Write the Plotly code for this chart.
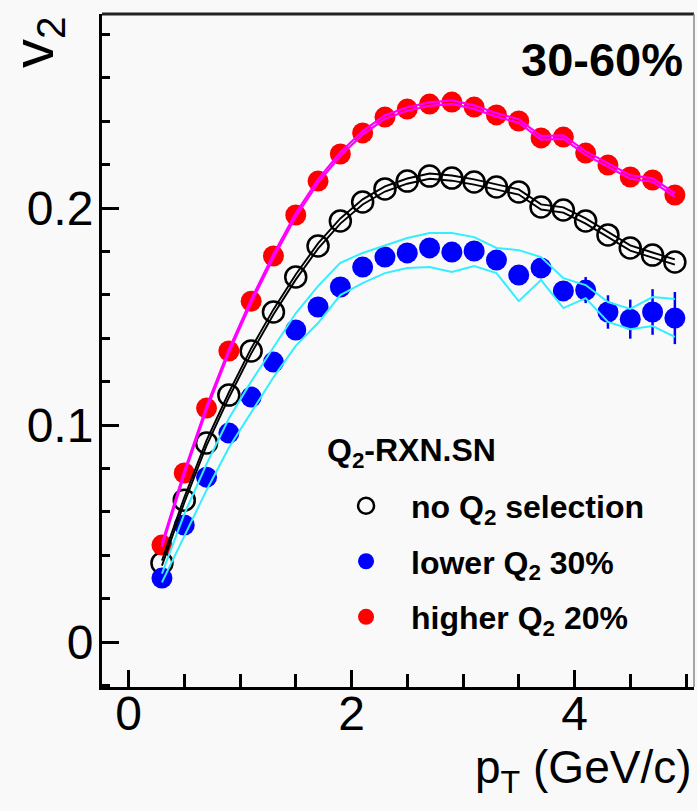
import plotly.graph_objects as go

# ---------------- data ----------------
pt = [0.3, 0.5, 0.7, 0.9, 1.1, 1.3, 1.5, 1.7, 1.9, 2.1, 2.3, 2.5,
      2.7, 2.9, 3.1, 3.3, 3.5, 3.7, 3.9, 4.1, 4.3, 4.5, 4.7, 4.9]

v2_all = [0.0364, 0.0654, 0.0917, 0.1138, 0.1341, 0.1521, 0.1682, 0.1825,
          0.1940, 0.2028, 0.2088, 0.2124, 0.2147, 0.2138, 0.2120, 0.2097,
          0.2074, 0.2005, 0.1991, 0.1940, 0.1876, 0.1816, 0.1783, 0.1751]
all_sys = [0.0012] * 24

v2_low = [0.0295, 0.0539, 0.0760, 0.0963, 0.1129, 0.1290, 0.1438, 0.1544,
          0.1636, 0.1728, 0.1774, 0.1793, 0.1816, 0.1797, 0.1802, 0.1760,
          0.1691, 0.1724, 0.1618, 0.1622, 0.1521, 0.1488, 0.1521, 0.1493]
low_err = [0.002, 0.002, 0.002, 0.002, 0.002, 0.002, 0.002, 0.002,
           0.002, 0.002, 0.002, 0.002, 0.002, 0.002, 0.002, 0.003,
           0.003, 0.003, 0.004, 0.006, 0.0077, 0.009, 0.0105, 0.012]
low_band_up = [0.0315, 0.0590, 0.0820, 0.1030, 0.1200, 0.1360, 0.1515, 0.1640,
               0.1747, 0.1793, 0.1829, 0.1862, 0.1885, 0.1885, 0.1866, 0.1816,
               0.1806, 0.1774, 0.1677, 0.1645, 0.1567, 0.1535, 0.1590, 0.1581]
low_band_dn = [0.0275, 0.0490, 0.0700, 0.0895, 0.1060, 0.1220, 0.1365, 0.1470,
               0.1599, 0.1654, 0.1700, 0.1724, 0.1728, 0.1705, 0.1733, 0.1700,
               0.1571, 0.1668, 0.1539, 0.1585, 0.1475, 0.1442, 0.1456, 0.1406]

v2_high = [0.0447, 0.0779, 0.1078, 0.1341, 0.1571, 0.1779, 0.1968, 0.2124,
           0.2249, 0.2346, 0.2419, 0.2456, 0.2479, 0.2488, 0.2465, 0.2429,
           0.2401, 0.2323, 0.2327, 0.2253, 0.2198, 0.2143, 0.2129, 0.2060]
high_sys = [0.0008] * 24

x_ticks = [0, 2, 4]
y_ticks = [0, 0.1, 0.2]

FONT = "Liberation Sans, Arial, Helvetica, sans-serif"

fig = go.Figure()

# markers first (lines are drawn over them in the reference)
fig.add_trace(go.Scatter(
    x=pt, y=v2_all, mode="markers", name="<b>no Q<sub>2</sub> selection</b>",
    marker=dict(symbol="circle-open", size=21, color="black",
                line=dict(width=2.5, color="black")),
    legendrank=1, legendgroup="a"))
fig.add_trace(go.Scatter(
    x=pt, y=v2_low, mode="markers", name="<b>lower Q<sub>2</sub> 30%</b>",
    marker=dict(symbol="circle", size=21, color="#0000ff"),
    error_y=dict(type="data", array=low_err, color="#0000ff",
                 thickness=2.5, width=0),
    legendrank=2, legendgroup="b"))
fig.add_trace(go.Scatter(
    x=pt, y=v2_high, mode="markers", name="<b>higher Q<sub>2</sub> 20%</b>",
    marker=dict(symbol="circle", size=21, color="#ff0000"),
    legendrank=3, legendgroup="c"))

# systematic band lines
def band(vals, sys, sign):
    return [v + sign * s for v, s in zip(vals, sys)]

for sgn in (1, -1):
    fig.add_trace(go.Scatter(x=pt, y=band(v2_all, all_sys, sgn), mode="lines",
                             line=dict(color="black", width=1.9),
                             showlegend=False, hoverinfo="skip"))
    fig.add_trace(go.Scatter(x=pt, y=band(v2_high, high_sys, sgn), mode="lines",
                             line=dict(color="#ff00ff", width=2.2),
                             showlegend=False, hoverinfo="skip"))
fig.add_trace(go.Scatter(x=pt, y=low_band_up, mode="lines",
                         line=dict(color="#33eeff", width=2),
                         showlegend=False, hoverinfo="skip"))
fig.add_trace(go.Scatter(x=pt, y=low_band_dn, mode="lines",
                         line=dict(color="#33eeff", width=2),
                         showlegend=False, hoverinfo="skip"))

axis_common = dict(showline=True, linewidth=3, linecolor="black",
                   ticks="inside", tickwidth=2.5, tickcolor="black",
                   showgrid=False, zeroline=False, mirror=False,
                   tickfont=dict(family=FONT, size=48, color="black"))

fig.update_xaxes(range=[-0.2377, 5.0717], tickvals=x_ticks, ticklen=17,
                 ticklabelstandoff=-18,
                 minor=dict(dtick=0.5, tick0=0, ticklen=13, tickwidth=2.5,
                            tickcolor="black", ticks="inside"),
                 **axis_common)
fig.update_yaxes(range=[-0.0207, 0.2894], tickvals=y_ticks, ticklen=17,
                 ticklabelstandoff=-4,
                 minor=dict(dtick=0.02, tick0=0, ticklen=8, tickwidth=2.5,
                            tickcolor="black", ticks="inside"),
                 **axis_common)

fig.update_layout(
    width=697, height=811,
    margin=dict(l=102, r=3, t=14, b=124),
    paper_bgcolor="#f9f9f9", plot_bgcolor="#f9f9f9",
    font=dict(family=FONT, color="black"),
    legend=dict(
        font=dict(family=FONT, size=32, color="black"),
        x=0.37, y=0.31, xanchor="left", yanchor="top",
        bgcolor="rgba(0,0,0,0)", borderwidth=0,
        itemwidth=80, tracegroupgap=11, indentation=0,
    ),
    shapes=[
        dict(type="line", xref="paper", yref="paper", x0=0, x1=1, y0=1, y1=1,
             line=dict(color="#222", width=3)),
        dict(type="line", xref="paper", yref="paper", x0=1, x1=1, y0=0, y1=1,
             line=dict(color="#888", width=1.5)),
    ],
    annotations=[
        dict(text="<b>Q<sub>2</sub>-RXN.SN</b>", xref="paper", yref="paper",
             x=(325 - 102) / 592, y=1 - (452 - 14) / 673,
             xanchor="left", yanchor="middle", showarrow=False,
             font=dict(family=FONT, size=32, color="black")),
        dict(text="<b>30-60%</b>", xref="paper", yref="paper",
             x=0.985, y=0.932, xanchor="right", yanchor="middle",
             showarrow=False, font=dict(family=FONT, size=47, color="black")),
        dict(text="v<sub>2</sub>", xref="paper", yref="paper",
             x=-0.11, y=1.0, xanchor="center", yanchor="top", textangle=-90,
             showarrow=False, font=dict(family=FONT, size=58, color="black")),
        dict(text="p<sub>T</sub> (GeV/c)", xref="paper", yref="paper",
             x=1.0, y=-0.1248, xanchor="right", yanchor="middle",
             showarrow=False, font=dict(family=FONT, size=46, color="black")),
    ],
)

fig.write_html("out.html")
